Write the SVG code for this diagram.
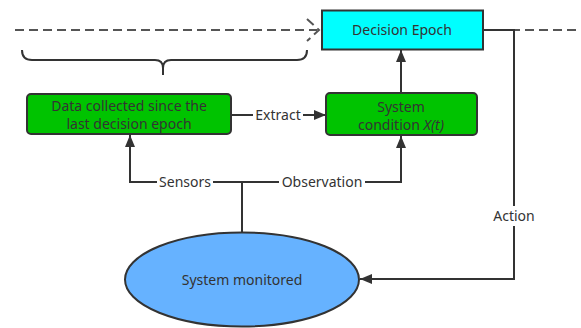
<svg xmlns="http://www.w3.org/2000/svg" width="581" height="328" viewBox="0 0 581 328">
<defs>
<marker id="arr" markerWidth="12" markerHeight="12" viewBox="0 0 12 10" refX="12" refY="5" orient="auto" markerUnits="userSpaceOnUse">
<path d="M0,0 L12,5 L0,10 Z" fill="#333"/>
</marker>
</defs>
<style>
.ln{fill:none;stroke:#333;stroke-width:2}
.dash{fill:none;stroke:#555;stroke-width:2;stroke-dasharray:9 5}
.t{font-family:"Noto Sans","Open Sans",sans-serif;font-size:14px;fill:#333;text-anchor:middle}
.box{stroke:#333;stroke-width:2}
</style>
<rect width="581" height="328" fill="#fff"/>
<g id="connectors">
<path class="dash" d="M15,30 H317"/>
<path class="dash" d="M307,19 L319,30 L307,41" stroke-dasharray="7 4"/>
<path class="dash" d="M483,30 H581"/>
<path class="ln" d="M22,50 Q22,60 32,60 H155 Q163,60 163,68 V75 M163,68 Q163,60 171,60 H297 Q307,60 307,50"/>
<path class="ln" d="M483,30 H514 V279 H360" marker-end="url(#arr)"/>
<path class="ln" d="M401,93 V50" marker-end="url(#arr)"/>
<path class="ln" d="M231,115 H253"/>
<path class="ln" d="M303,115 H326" marker-end="url(#arr)"/>
<path class="ln" d="M242,232 V182"/>
<path class="ln" d="M213,182 H279"/>
<path class="ln" d="M157,182 H130 V135" marker-end="url(#arr)"/>
<path class="ln" d="M365,182 H401 V136" marker-end="url(#arr)"/>
<rect x="491" y="206" width="46" height="20" fill="#fff"/>
<text class="t" x="514" y="221">Action</text>
<text class="t" x="185" y="187">Sensors</text>
<text class="t" x="322" y="187">Observation</text>
<text class="t" x="278" y="120">Extract</text>
</g>
<g id="decision-epoch">
<rect class="box" x="322" y="10.5" width="161" height="39" fill="#00FFFF"/>
<text class="t" x="402" y="35">Decision Epoch</text>
</g>
<g id="data-collected">
<rect class="box" x="27" y="94" width="204" height="40" rx="4" fill="#00C300"/>
<text class="t" x="129" y="111">Data collected since the</text>
<text class="t" x="129" y="129">last decision epoch</text>
</g>
<g id="system-condition">
<rect class="box" x="326" y="93" width="151" height="42" rx="4" fill="#00C300"/>
<text class="t" x="401" y="112">System</text>
<text class="t" x="401" y="130">condition <tspan font-style="italic">X(t)</tspan></text>
</g>
<g id="system-monitored">
<ellipse class="box" cx="242" cy="279.5" rx="117" ry="47" fill="#66B2FF"/>
<text class="t" x="242" y="285">System monitored</text>
</g>
</svg>
